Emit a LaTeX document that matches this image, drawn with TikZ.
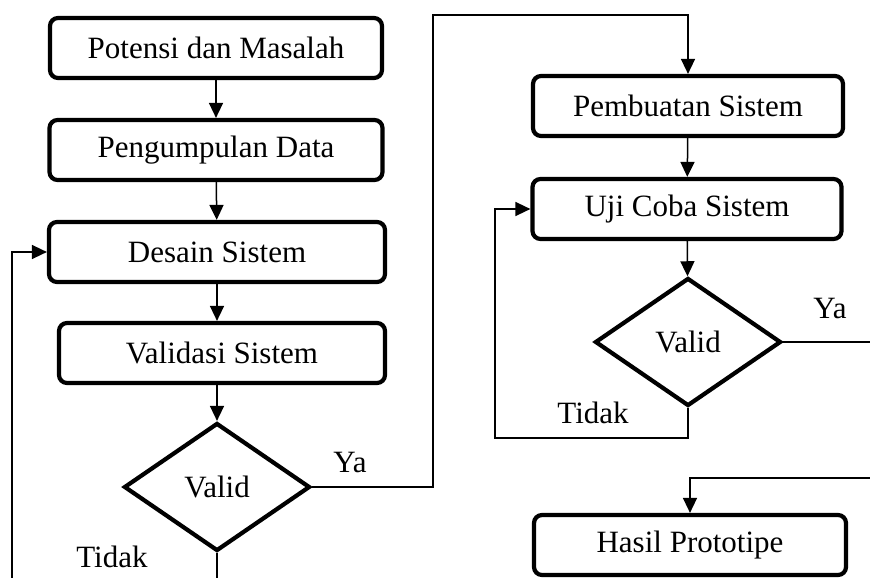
\documentclass[tikz,border=0pt]{standalone}
\usepackage{fontspec}
\setmainfont{Liberation Serif}
\usepackage{tikz}
\usetikzlibrary{arrows.meta,shapes.geometric}

\tikzset{
	stepbox/.style={draw,line width=4.2pt,rounded corners=8pt,minimum height=60pt,inner sep=0pt},
	check/.style={draw,diamond,line width=4.2pt,minimum width=186pt,minimum height=128pt,inner sep=0pt},
	lbl/.style={inner sep=0pt},
	conn/.style={line width=1.5pt,>={Triangle[length=15pt,width=14pt]}}
}

\begin{document}
\begin{tikzpicture}[x=1pt,y=-1pt,font=\fontsize{31}{36}\selectfont]
		\useasboundingbox (0,0) rectangle (870,578);
		% left column
		\node[stepbox,minimum width=332pt] (pot) at (216,48) {Potensi dan Masalah};
		\node[stepbox,minimum width=333pt] (peng) at (216,150) {Pengumpulan Data};
		\node[stepbox,minimum width=336pt] (des) at (217,252) {Desain Sistem};
		\node[stepbox,minimum width=326pt] (val) at (222,353) {Validasi Sistem};
		\node[check] (v1) at (217,487) {Valid};
		% right column
		\node[stepbox,minimum width=310pt] (pemb) at (688,106) {Pembuatan Sistem};
		\node[stepbox,minimum width=309pt] (uji) at (687,209) {Uji Coba Sistem};
		\node[check] (v2) at (688,342) {Valid};
		\node[stepbox,minimum width=312pt] (hasil) at (690,545) {Hasil Prototipe};
		% loose ends at the border
		\coordinate (v1out) at (217,578);
		\coordinate (back1) at (12,578);
		\coordinate (v2out) at (870,342);
		\coordinate (fromright) at (870,478);
		%
		\path[->,conn]
		(pot) edge (peng)
		(peng) edge (des)
		(des.south) edge (des.south |- val.north)
		(val.south -| v1.north) edge (v1)
		(pemb) edge (uji)
		(uji) edge (v2);
		%
		\draw[conn] (v1) -- (v1out);
		\draw[conn] (v2) -- (v2out);
		\draw[->,conn] (back1) |- (des.west);
		\draw[->,conn] (v1.east) -- (433,487) |- (550,15) -| (pemb.north);
		\draw[->,conn] (v2.south) |- (495,438) |- (uji.west);
		\draw[->,conn] (fromright) -| (hasil.north);
		%
		\node[lbl] (ya1) at (350,462) {Ya};
		\node[lbl] (no1) at (112,557) {Tidak};
		\node[lbl] (ya2) at (830,308) {Ya};
		\node[lbl] (no2) at (593,413) {Tidak};
		\end{tikzpicture}
\end{document}
